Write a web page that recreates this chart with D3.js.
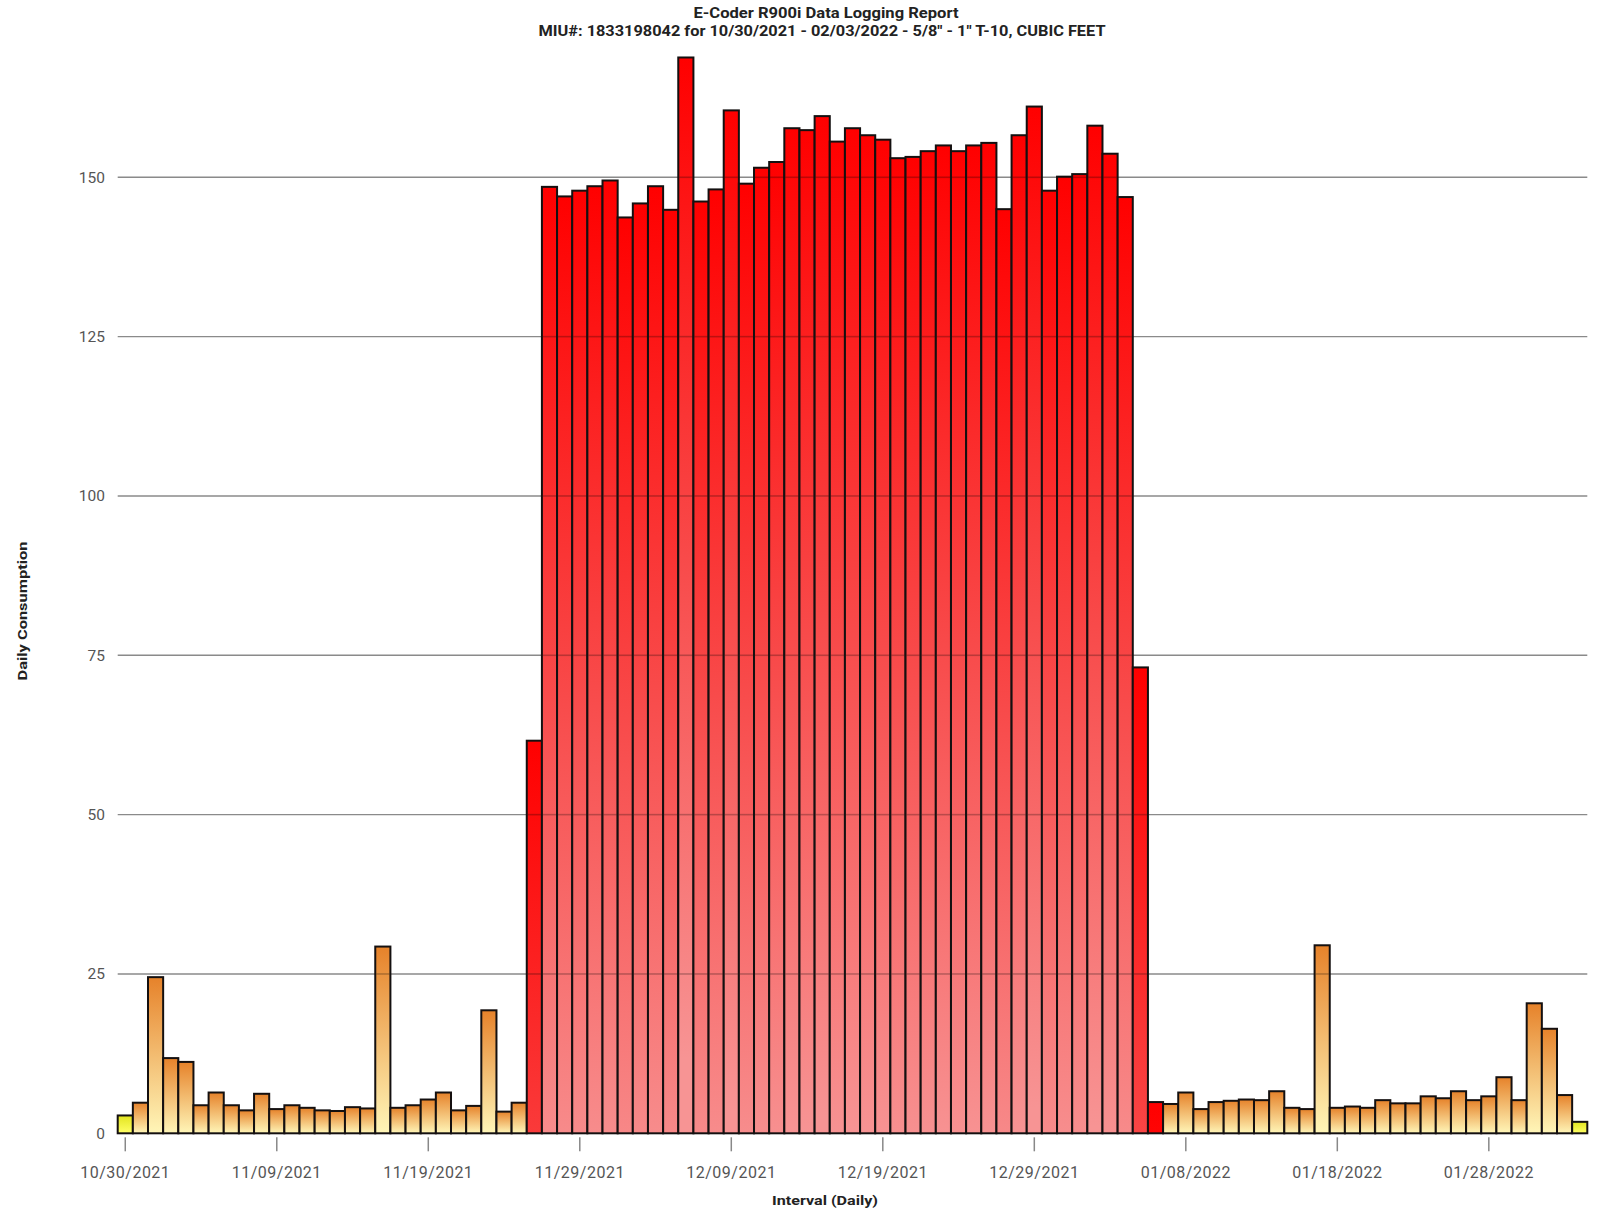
<!DOCTYPE html>
<html>
<head>
<meta charset="utf-8">
<script src="https://cdn.jsdelivr.net/npm/d3@7/dist/d3.min.js"></script>
<style>
  html, body { margin: 0; padding: 0; background: #fff; }
  svg { display: block; }
  .tick-label { font-family: Roboto, "Open Sans", sans-serif; fill: #555; }
  .title { font-family: Roboto, "Liberation Sans", sans-serif; font-weight: bold; fill: #222; }
</style>
</head>
<body>
<svg id="chart" width="1597" height="1213"></svg>
<script>
// ---- data ----
const titleLines = [
  "E-Coder R900i Data Logging Report",
  "MIU#: 1833198042 for 10/30/2021 - 02/03/2022 - 5/8\" - 1\" T-10, CUBIC FEET"
];
const yAxisTitle = "Daily Consumption";
const xAxisTitle = "Interval (Daily)";
const startDate = "2021-10-30";
const endDate = "2022-02-03";
const values = [
  2.8, 4.8, 24.5, 11.8, 11.2, 4.4, 6.4, 4.4, 3.6, 6.2,
  3.8, 4.4, 4.0, 3.6, 3.5, 4.1, 3.9, 29.3, 4.0, 4.4,
  5.3, 6.4, 3.6, 4.3, 19.3, 3.4, 4.8, 61.6,
  148.5, 147.0, 147.9, 148.6, 149.5, 143.7, 145.9, 148.6, 144.9, 168.8,
  146.2, 148.1, 160.5, 149.0, 151.5, 152.4, 157.7, 157.4, 159.6, 155.6,
  157.7, 156.6, 155.9, 153.0, 153.2, 154.1, 155.0, 154.1, 155.0, 155.4,
  145.0, 156.6, 161.1, 147.9, 150.1, 150.5, 158.1, 153.7, 146.9,
  73.1,
  4.9, 4.6, 6.4, 3.8, 4.9, 5.1, 5.3, 5.2, 6.6, 4.0,
  3.8, 29.5, 4.0, 4.2, 4.0, 5.2, 4.7, 4.7, 5.8, 5.5,
  6.6, 5.2, 5.8, 8.8, 5.2, 20.4, 16.4, 6.0, 1.8
];
const flaggedHighDates = ["01/06/2022"];
const yTicks = [0, 25, 50, 75, 100, 125, 150];
const xTickLabels = ["10/30/2021", "11/09/2021", "11/19/2021", "11/29/2021", "12/09/2021",
  "12/19/2021", "12/29/2021", "01/08/2022", "01/18/2022", "01/28/2022"];

// ---- build ----
const fmt = d3.timeFormat("%m/%d/%Y");
const parse = d3.timeParse("%Y-%m-%d");
const days = d3.timeDay.range(parse(startDate), d3.timeDay.offset(parse(endDate), 1)).map(fmt);
const data = days.map((d, i) => {
  const v = values[i];
  let level = v >= 50 ? "high" : (v < 3 ? "low" : "mid");
  if (flaggedHighDates.includes(d)) level = "high";
  return { date: d, value: v, level, i };
});

const svg = d3.select("#chart");
const plot = { left: 117.7, right: 1587.3, top: 177.3, bottom: 1133.3 };

const x = d3.scaleBand().domain(days).range([plot.left, plot.right]).padding(0);
const y = d3.scaleLinear().domain([0, 150]).range([plot.bottom, plot.top]);

const defs = svg.append("defs");
const mkGrad = (id, c1, c2) => {
  const g = defs.append("linearGradient").attr("id", id)
    .attr("x1", 0).attr("y1", 0).attr("x2", 0).attr("y2", 1);
  g.append("stop").attr("offset", "0%").attr("stop-color", c1);
  g.append("stop").attr("offset", "100%").attr("stop-color", c2);
};
mkGrad("gMid", "#e6822a", "#fff6b8");
mkGrad("gLow", "#e2e41e", "#ffff66");

// red bars: gradient in pixels from bar top over roughly the full plot height
const fullH = plot.bottom - plot.top + 45;
data.filter(d => d.level === "high").forEach(d => {
  const top = y(d.value);
  const g = defs.append("linearGradient").attr("id", "gHigh" + d.i)
    .attr("gradientUnits", "userSpaceOnUse")
    .attr("x1", 0).attr("y1", top).attr("x2", 0).attr("y2", top + fullH);
  g.append("stop").attr("offset", "0%").attr("stop-color", "#ff0000");
  g.append("stop").attr("offset", "50%").attr("stop-color", "#f84a4a");
  g.append("stop").attr("offset", "100%").attr("stop-color", "#f79494");
});

const barX = d => x(d.date), barY = d => y(d.value), barH = d => y(0) - y(d.value);

// gridlines (behind)
const gridVals = yTicks.filter(t => t > 0);
svg.append("g").selectAll("line").data(gridVals).join("line")
  .attr("x1", plot.left).attr("x2", plot.right)
  .attr("y1", d => y(d)).attr("y2", d => y(d))
  .attr("stroke", "#8a8a8a").attr("stroke-width", 1.4);

// y tick labels
svg.append("g").selectAll("text").data(yTicks).join("text")
  .attr("class", "tick-label")
  .attr("x", 105).attr("y", d => y(d))
  .attr("text-anchor", "end").attr("dy", "0.35em")
  .attr("font-size", 15.5).text(d => d);

// bars
svg.append("g").selectAll("rect").data(data).join("rect")
  .attr("x", barX)
  .attr("width", x.bandwidth())
  .attr("y", barY)
  .attr("height", barH)
  .attr("fill", d => d.level === "high" ? `url(#gHigh${d.i})` : (d.level === "low" ? "url(#gLow)" : "url(#gMid)"))
  .attr("stroke", "#141010").attr("stroke-width", 2);

// gridlines showing through the bars (segments inside each bar)
const segs = [];
data.forEach(d => gridVals.forEach(g => { if (g < d.value) segs.push({ d, g }); }));
svg.append("g").selectAll("line").data(segs).join("line")
  .attr("x1", s => barX(s.d) + 1).attr("x2", s => barX(s.d) + x.bandwidth() - 1)
  .attr("y1", s => y(s.g)).attr("y2", s => y(s.g))
  .attr("stroke", "#000").attr("stroke-opacity", 0.25).attr("stroke-width", 1.6);

// x ticks
const xt = svg.append("g").selectAll("g").data(xTickLabels).join("g")
  .attr("transform", d => `translate(${x(d) + x.bandwidth() / 2},0)`);
xt.append("line").attr("y1", plot.bottom + 4).attr("y2", plot.bottom + 18)
  .attr("stroke", "#888").attr("stroke-width", 1.5);
xt.append("text").attr("class", "tick-label").attr("y", plot.bottom + 45)
  .attr("text-anchor", "middle").attr("font-size", 16)
  .attr("letter-spacing", 0.5).text(d => d);

// titles
svg.append("text").attr("class", "title").attr("x", 826).attr("y", 18)
  .attr("text-anchor", "middle").attr("font-size", 14.5)
  .attr("textLength", 265).attr("lengthAdjust", "spacingAndGlyphs").text(titleLines[0]);
svg.append("text").attr("class", "title").attr("x", 822).attr("y", 36)
  .attr("text-anchor", "middle").attr("font-size", 14.5)
  .attr("textLength", 567).attr("lengthAdjust", "spacingAndGlyphs").text(titleLines[1]);

svg.append("text").attr("class", "title")
  .attr("transform", "translate(27,611) rotate(-90)")
  .attr("text-anchor", "middle").attr("font-size", 13)
  .attr("textLength", 139).attr("lengthAdjust", "spacingAndGlyphs").text(yAxisTitle);

svg.append("text").attr("class", "title").attr("x", 825).attr("y", 1205)
  .attr("text-anchor", "middle").attr("font-size", 13.5)
  .attr("textLength", 106).attr("lengthAdjust", "spacingAndGlyphs").text(xAxisTitle);
</script>
</body>
</html>
